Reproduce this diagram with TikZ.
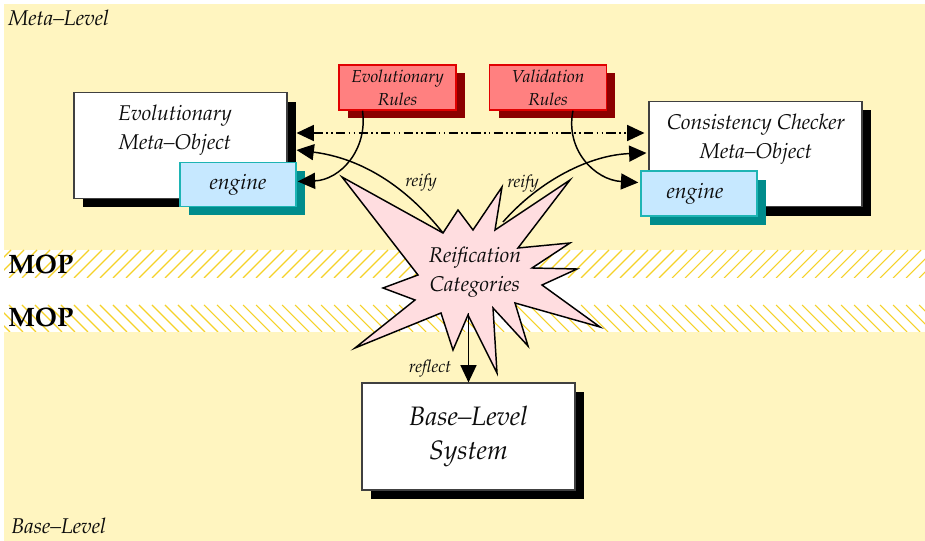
\documentclass[tikz,border=0pt]{standalone}
\usepackage[T1]{fontenc}
\usepackage{mathpazo}
\usepackage{tikz}
\usetikzlibrary{arrows.meta,shadows,calc}

\definecolor{bgyellow}{RGB}{255,245,192}
\definecolor{hatchgold}{RGB}{245,210,40}
\definecolor{rulefill}{RGB}{255,128,128}
\definecolor{ruledraw}{RGB}{225,0,0}
\definecolor{ruleshadow}{RGB}{139,0,0}
\definecolor{engfill}{RGB}{198,232,255}
\definecolor{engdraw}{RGB}{30,180,180}
\definecolor{engshadow}{RGB}{0,140,140}
\definecolor{starfill}{RGB}{255,221,224}

\begin{document}
\begin{tikzpicture}[x=0.75pt, y=-0.75pt,
  every node/.style={inner sep=0pt, text=black!95, align=center,
    font=\itshape\fontsize{16}{21.75}\selectfont},
  objbox/.style={rectangle, draw=black!75, line width=0.8pt, fill=white,
    minimum width=159.75pt, minimum height=79pt,
    drop shadow={shadow xshift=6.75pt, shadow yshift=-6.75pt, fill=black, opacity=1}},
  engbox/.style={rectangle, draw=engdraw, line width=1.1pt, fill=engfill,
    minimum width=87pt, minimum height=33pt,
    drop shadow={shadow xshift=6.75pt, shadow yshift=-6.75pt, fill=engshadow, opacity=1}},
  rulebox/.style={rectangle, draw=ruledraw, line width=1.1pt, fill=rulefill,
    minimum width=87.5pt, minimum height=33.75pt,
    font=\itshape\fontsize{13}{17}\selectfont,
    drop shadow={shadow xshift=6.75pt, shadow yshift=-6pt, fill=ruleshadow, opacity=1}},
  small/.style={font=\itshape\fontsize{13}{16}\selectfont},
  mop/.style={anchor=west, text=black, font=\bfseries\fontsize{20}{24}\selectfont},
  hatchline/.style={draw=hatchgold, line width=0.8pt},
  arr/.style={-{Triangle[length=13pt,width=12pt]}, line width=1.1pt},
  starshape/.style={draw=black, fill=starfill, line width=1.1pt, line join=miter}]

  \useasboundingbox (0,0) rectangle (925,541);
  \fill[white] (0,0) rectangle (925,541);
  \fill[bgyellow] (4,4) rectangle (925,541);
  \fill[white] (4,250) rectangle (925,332);

  % MOP bands
  \begin{scope}
    \clip (4,250) rectangle (925,278);
    \foreach \x in {-30,-17,...,940} \draw[hatchline] (\x,278) -- ++(28,-28);
  \end{scope}
  \begin{scope}
    \clip (4,305) rectangle (925,332);
    \foreach \x in {-30,-17,...,940} \draw[hatchline] (\x,305) -- ++(27,27);
  \end{scope}
  \node[mop] (mop1) at (8,264) {MOP};
  \node[mop] (mop2) at (8,317) {MOP};

  \node[anchor=west] (meta) at (8,17.5) {Meta--Level};
  \node[anchor=west] (base) at (11,525.5) {Base--Level};

  % meta-objects
  \node[objbox] (evo) at (180.5,145.5) {};
  \node (evot) at (175,130.5) {Evolutionary\\Meta--Object};
  \node[objbox] (cc) at (755.5,154) {};
  \node (cct) at (756,139) {Consistency Checker\\Meta--Object};
  \node[engbox] (eng1) at (238,184.5) {engine};
  \node[engbox, minimum height=33.75pt] (eng2) at (699,193.5) {\hspace{-6pt}engine};

  \node[rulebox] (evr) at (397.5,87.5) {Evolutionary\\Rules};
  \node[rulebox] (vr) at (548,87.5) {Validation\\Rules};

  \draw[arr, {Triangle[length=13pt,width=12pt]}-{Triangle[length=13pt,width=12pt]},
    dash pattern=on 7pt off 2.5pt on 1.2pt off 2.5pt on 1.2pt off 2.5pt]
    ($(evo.east)+(9,-12.5)$) -- ($(cc.west)+(-4,-21)$);
  \draw[arr] ($(evr.south)+(-35,0)$) .. controls (368,150) and (340,180) .. ($(eng1.east)+(1,-3)$);
  \draw[arr] ($(vr.south)+(25,0)$) .. controls (565,150) and (595,180) .. ($(eng2.west)+(-2,-11)$);

  % reification
  \coordinate (sc) at (475,272);
  \draw[arr] ($(sc)+(-32,-39)$) .. controls (405,185) and (360,158) .. ($(evo.east)+(9,4.5)$);
  \draw[arr] ($(sc)+(28,-50)$) .. controls (540,180) and (590,155) .. ($(cc.west)+(-2,-1)$);
  \draw[starshape] (342,177) -- (443,233) -- (458,210) -- (473,230) -- (502,187)
    -- (495,230) -- (570,180) -- (518,248) -- (570,243) -- (532,268) -- (577,269)
    -- (542,285) -- (600,327) -- (515,303) -- (528,346) -- (493,308) -- (497,373)
    -- (468,315) -- (453,350) -- (441,313) -- (355,348) -- (415,300) -- (383,288)
    -- (418,275) -- cycle;
  \node (reif) at (sc) {Reification\\Categories};
  \node[small] (l1) at (421,183) {reify};
  \node[small] (l2) at (523,184) {reify};

  % base level
  \node[objbox, minimum height=80.25pt, font=\itshape\fontsize{20}{26}\selectfont] (sys) at (468.5,436.5) {Base--Level\\System};
  \draw[arr] ($(sc)+(-6.5,41)$) -- (sys.north);
  \node[small] (l3) at (430,369) {reflect};
\end{tikzpicture}
\end{document}
